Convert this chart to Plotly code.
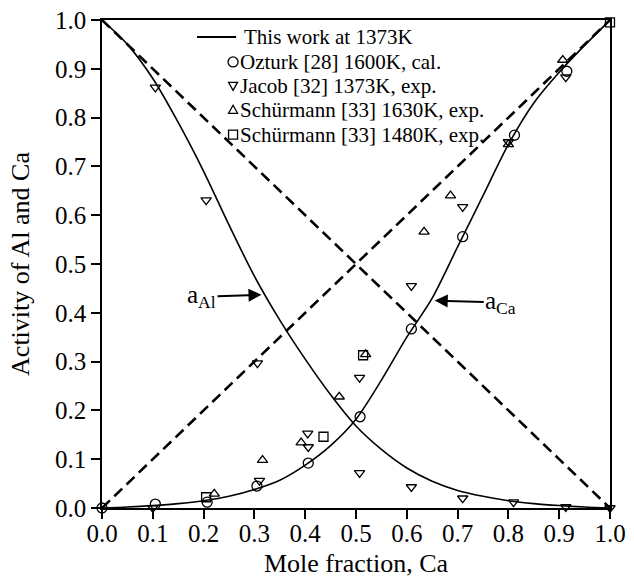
import plotly.graph_objects as go

# ---- data ----
x_curve = [0.0, 0.05, 0.1, 0.15, 0.2, 0.25, 0.3, 0.35, 0.4, 0.45, 0.5,
           0.55, 0.6, 0.65, 0.7, 0.75, 0.8, 0.85, 0.9, 0.95, 1.0]
a_al_curve = [1.0, 0.95, 0.88, 0.79, 0.69, 0.58, 0.475, 0.385, 0.305, 0.232, 0.168,
              0.12, 0.082, 0.055, 0.036, 0.024, 0.015, 0.009, 0.005, 0.002, 0.0]
a_ca_curve = [0.0, 0.002, 0.005, 0.009, 0.015, 0.024, 0.038, 0.057, 0.088, 0.128, 0.182,
              0.262, 0.35, 0.43, 0.535, 0.64, 0.745, 0.83, 0.893, 0.948, 1.0]

raoult_x = [0.0, 1.0]
raoult_ca = [0.0, 1.0]
raoult_al = [1.0, 0.0]

ozturk_x = [0.0, 0.105, 0.207, 0.305, 0.406, 0.508, 0.609, 0.71, 0.812, 0.915]
ozturk_y = [0.0, 0.008, 0.012, 0.045, 0.092, 0.187, 0.367, 0.556, 0.764, 0.895]

jacob_x = [0.105, 0.205, 0.306, 0.507, 0.609, 0.71, 0.81, 0.913, 1.0,
           0.1, 0.31, 0.405, 0.406, 0.507, 0.609, 0.71, 0.8, 0.913]
jacob_y = [0.862, 0.631, 0.297, 0.072, 0.043, 0.02, 0.012, 0.002, 0.0,
           0.0, 0.056, 0.153, 0.125, 0.267, 0.455, 0.617, 0.75, 0.883]

sch1630_x = [0.221, 0.316, 0.392, 0.467, 0.519, 0.634, 0.686, 0.8, 0.907]
sch1630_y = [0.029, 0.098, 0.134, 0.228, 0.315, 0.566, 0.64, 0.745, 0.918]

sch1480_x = [0.205, 0.436, 0.514, 1.0]
sch1480_y = [0.022, 0.146, 0.313, 0.995]

x_ticks = [0.0, 0.1, 0.2, 0.3, 0.4, 0.5, 0.6, 0.7, 0.8, 0.9, 1.0]
y_ticks = [0.0, 0.1, 0.2, 0.3, 0.4, 0.5, 0.6, 0.7, 0.8, 0.9, 1.0]

legend_labels = ["This work at 1373K", "Ozturk [28] 1600K, cal.",
                 "Jacob [32] 1373K, exp.", "Schürmann [33] 1630K, exp.",
                 "Schürmann [33] 1480K, exp."]
legend_kinds = ["line", "circle", "tri_down", "tri_up", "square"]

SERIF = "Liberation Serif, Times New Roman, serif"

fig = go.Figure()

# Raoult lines (dashed)
for yy in (raoult_al, raoult_ca):
    fig.add_trace(go.Scatter(x=raoult_x, y=yy, mode="lines",
                             line=dict(color="black", width=2.6, dash="11px,6px"),
                             showlegend=False, hoverinfo="skip"))

# This work curves
for yy in (a_al_curve, a_ca_curve):
    fig.add_trace(go.Scatter(x=x_curve, y=yy, mode="lines",
                             line=dict(color="black", width=1.6, shape="spline", smoothing=0.8),
                             showlegend=False, hoverinfo="skip"))

mline = dict(color="black", width=1.3)
fig.add_trace(go.Scatter(x=ozturk_x, y=ozturk_y, mode="markers", cliponaxis=False,
                         marker=dict(symbol="circle-open", size=10, color="black", line=mline),
                         showlegend=False))
fig.add_trace(go.Scatter(x=jacob_x, y=jacob_y, mode="markers", cliponaxis=False,
                         marker=dict(symbol="triangle-down-open", size=9, color="black", line=mline),
                         showlegend=False))
fig.add_trace(go.Scatter(x=sch1630_x, y=sch1630_y, mode="markers", cliponaxis=False,
                         marker=dict(symbol="triangle-up-open", size=9, color="black", line=mline),
                         showlegend=False))
fig.add_trace(go.Scatter(x=sch1480_x, y=sch1480_y, mode="markers", cliponaxis=False,
                         marker=dict(symbol="square-open", size=9, color="black", line=mline),
                         showlegend=False))

# Legend built from annotations + pixel-sized shapes
leg_y = [0.965, 0.914, 0.865, 0.816, 0.765]
sym_x = 0.258
annotations = []
shapes = []
for i, (lab, kind) in enumerate(zip(legend_labels, legend_kinds)):
    annotations.append(dict(x=0.276 if i == 0 else 0.268, y=leg_y[i], xref="x", yref="y",
                            text=lab, showarrow=False, xanchor="left", yanchor="middle",
                            font=dict(family=SERIF, size=21, color="black")))
    common = dict(xref="x", yref="y", xsizemode="pixel", ysizemode="pixel",
                  xanchor=sym_x, yanchor=leg_y[i], line=dict(color="black", width=1.3))
    if kind == "line":
        shapes.append(dict(type="line", xref="x", yref="y", x0=0.187, x1=0.264,
                           y0=leg_y[i], y1=leg_y[i], line=dict(color="black", width=2)))
    elif kind == "circle":
        shapes.append(dict(type="circle", x0=-5, x1=5, y0=-5, y1=5, **common))
    elif kind == "square":
        shapes.append(dict(type="rect", x0=-4.5, x1=4.5, y0=-4.5, y1=4.5, **common))
    elif kind == "tri_down":
        shapes.append(dict(type="path", path="M -4.5 3.5 L 4.5 3.5 L 0 -4.5 Z", **common))
    elif kind == "tri_up":
        shapes.append(dict(type="path", path="M -4.5 -3.5 L 4.5 -3.5 L 0 4.5 Z", **common))

# a_Al and a_Ca labels with arrows
annotations.append(dict(x=0.314, y=0.437, xref="x", yref="y", text="a<sub>Al</sub>",
                        showarrow=True, ax=-60, ay=2, arrowhead=2, arrowsize=1.3,
                        arrowwidth=2, arrowcolor="black",
                        font=dict(family=SERIF, size=25, color="black")))
annotations.append(dict(x=0.655, y=0.425, xref="x", yref="y", text="a<sub>Ca</sub>",
                        showarrow=True, ax=66, ay=2, arrowhead=2, arrowsize=1.3,
                        arrowwidth=2, arrowcolor="black",
                        font=dict(family=SERIF, size=25, color="black")))

fig.update_layout(
    width=634, height=579,
    margin=dict(l=102, r=24, t=20, b=71),
    paper_bgcolor="white", plot_bgcolor="white",
    font=dict(family=SERIF, size=25, color="black"),
    annotations=annotations,
    shapes=shapes,
    showlegend=False,
)
fig.update_xaxes(range=[0, 1], tickvals=x_ticks, ticktext=[f"{v:.1f}" for v in x_ticks],
                 showgrid=False, zeroline=False, showline=True, linecolor="black",
                 linewidth=1.6, mirror=True, ticks="outside", ticklen=9, tickwidth=1.5,
                 tickcolor="black", tickfont=dict(family=SERIF, size=25),
                 ticklabelstandoff=-7,
                 title=dict(text="Mole fraction, Ca", font=dict(family=SERIF, size=26),
                            standoff=8),
                 automargin=False)
fig.update_yaxes(range=[0, 1], tickvals=y_ticks, ticktext=[f"{v:.1f}" for v in y_ticks],
                 showgrid=False, zeroline=False, showline=True, linecolor="black",
                 linewidth=1.6, mirror=True, ticks="outside", ticklen=9, tickwidth=1.5,
                 tickcolor="black", tickfont=dict(family=SERIF, size=25),
                 title=dict(text="Activity of Al and Ca", font=dict(family=SERIF, size=26),
                            standoff=18),
                 automargin=False)

fig.write_html("out.html")
